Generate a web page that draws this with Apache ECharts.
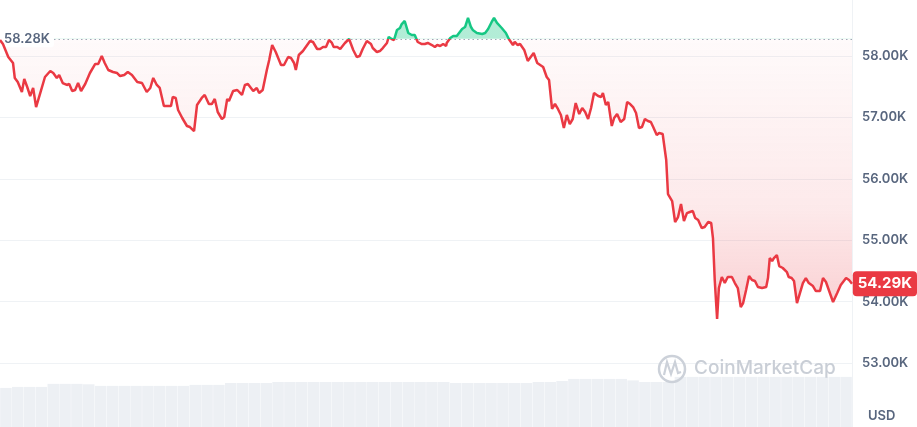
<!DOCTYPE html>
<html>
<head>
<meta charset="utf-8">
<script src="https://cdn.jsdelivr.net/npm/echarts@6/dist/echarts.min.js"></script>
<style>
  html, body { margin: 0; padding: 0; background: #fff; }
  #chart { width: 917px; height: 427px; }
</style>
</head>
<body>
<div id="chart"></div>
<script>
// 24h price, minutes since start
var openPrice = 58280;
var lastPrice = 54290;
var times = [
  0,5,14,22,25,30,37,41,46,51,
  56,61,68,76,85,90,96,100,106,113,
  117,122,127,132,137,144,152,161,166,172,
  177,183,191,198,203,210,216,223,232,240,
  243,248,254,259,265,270,277,284,289,292,
  297,301,308,316,321,324,328,333,341,346,
  353,358,363,368,375,379,384,387,394,401,
  409,414,419,428,434,438,444,451,455,460,
  466,475,480,487,492,497,500,505,512,515,
  524,529,536,541,546,551,556,561,564,570,
  575,583,590,597,603,608,613,620,627,630,
  637,642,647,654,657,662,666,671,676,679,
  684,690,696,701,706,713,718,723,730,735,
  739,744,749,754,755,761,766,772,781,786,
  791,796,799,806,815,820,825,831,835,840,
  848,855,860,867,870,875,879,886,892,902,
  908,918,924,928,933,938,943,948,953,958,
  963,968,973,979,984,989,994,999,1004,1011,
  1016,1019,1024,1028,1034,1038,1043,1049,1055,1060,
  1065,1070,1075,1080,1085,1090,1095,1100,1104,1110,
  1114,1120,1126,1129,1136,1141,1146,1151,1156,1161,
  1166,1171,1175,1180,1186,1191,1197,1202,1205,1208,
  1212,1215,1220,1225,1230,1237,1242,1247,1252,1256,
  1261,1266,1271,1276,1281,1288,1295,1298,1301,1305,
  1308,1313,1317,1323,1330,1333,1338,1342,1347,1350,
  1357,1362,1367,1374,1379,1386,1391,1396,1399,1408,
  1415,1421,1430,1435,1440
];
var prices = [
  58260,58195,57984,57886,57642,57576,57414,57625,57495,57348,
  57479,57169,57397,57658,57756,57723,57642,57690,57560,57528,
  57544,57430,57446,57560,57430,57544,57723,57870,57870,58000,
  57886,57772,57739,57723,57674,57690,57739,57690,57576,57560,
  57576,57414,57479,57642,57528,57479,57186,57186,57186,57332,
  57316,57120,56990,56860,56843,56843,56778,57202,57316,57365,
  57218,57218,57300,57088,56974,57006,57300,57267,57430,57446,
  57365,57528,57544,57430,57479,57397,57446,57772,57935,58179,
  58065,57853,57853,57984,57967,57886,57772,58016,58081,58098,
  58244,58228,58114,58114,58147,58147,58261,58212,58147,58147,
  58114,58212,58277,58098,57984,58000,58114,58244,58195,58130,
  58065,58081,58130,58212,58310,58277,58261,58424,58456,58521,
  58570,58375,58342,58342,58228,58195,58195,58212,58179,58147,
  58179,58163,58195,58163,58212,58293,58326,58326,58440,58472,
  58619,58472,58424,58375,58358,58375,58440,58554,58619,58538,
  58456,58375,58277,58179,58228,58179,58195,58098,57919,58049,
  57886,57821,57658,57609,57137,57218,57137,57039,56827,57039,
  56892,56974,57234,57055,57153,57088,56974,57153,57397,57348,
  57332,57397,57202,57251,56860,56990,57055,56925,56974,57251,
  57218,57169,57071,56827,56843,56974,56941,56925,56843,56713,
  56746,56729,56306,55752,55638,55296,55377,55589,55312,55442,
  55459,55475,55361,55328,55198,55214,55296,55280,55035,54351,
  53716,54221,54400,54302,54400,54400,54302,54221,53911,53976,
  54188,54416,54351,54335,54237,54221,54237,54384,54709,54661,
  54709,54758,54579,54547,54481,54400,54384,54335,53976,53993,
  54302,54384,54302,54253,54172,54172,54384,54319,54302,53993,
  54139,54270,54384,54351,54290
];
// volume, billions USD, one bar per 20 min
var volume = [
  26.9,27.6,27.6,27.6,29.7,29.7,29.7,29.4,28.3,28.3,
  28.3,28.3,28.3,28.3,28.3,28.3,29.0,29.0,29.0,30.3,
  30.3,30.3,30.3,31.0,31.0,31.0,31.0,31.0,31.0,31.0,
  31.0,31.0,31.0,31.0,31.0,31.0,31.0,31.0,30.3,30.3,
  30.3,30.3,30.3,30.3,30.3,31.0,31.0,31.7,33.1,33.1,
  33.1,33.1,33.1,32.1,31.0,31.0,31.0,34.5,34.5,34.5,
  34.5,34.5,34.5,34.5,34.5,34.5,34.5,34.5,34.5,34.5,
  34.5,34.5
];

var red = '#ea3943';
var green = '#16c784';
var textGray = '#58667e';
var font = 'Inter, sans-serif';

var priceData = times.map(function (t, i) { return [t, prices[i]]; });
var volIdx = volume.map(function (v, i) { return i; });
var fmtK = function (v) { return (v / 1000).toFixed(2) + 'K'; };

// price grid runs from y=0 (yMax) down to y=363 (53000)
var yMin = 53000, yMax = 58912, gridBottom = 64;
var cut = (yMax - openPrice) * (427 - gridBottom) / (yMax - yMin) / 427;

var lineColor = new echarts.graphic.LinearGradient(0, 0, 0, 427, [
  { offset: 0, color: green },
  { offset: cut, color: green },
  { offset: cut + 0.0001, color: red },
  { offset: 1, color: red }
], true);

var areaColor = new echarts.graphic.LinearGradient(0, 0, 0, 427, [
  { offset: 0, color: 'rgba(22,199,132,0.33)' },
  { offset: cut, color: 'rgba(22,199,132,0.33)' },
  { offset: cut + 0.0001, color: 'rgba(234,57,67,0.025)' },
  { offset: 0.49, color: 'rgba(234,57,67,0.11)' },
  { offset: 0.70, color: 'rgba(234,57,67,0.22)' },
  { offset: 0.76, color: 'rgba(234,57,67,0.25)' }
], true);

var chart = echarts.init(document.getElementById('chart'));
chart.setOption({
  animation: false,
  grid: [
    { left: 0, right: 65, top: 0, bottom: gridBottom },
    { left: 0, right: 65, top: 0, bottom: 0 }
  ],
  xAxis: [
    { type: 'value', min: 0, max: 1440, show: false, gridIndex: 0 },
    { type: 'category', data: volIdx, show: false, gridIndex: 1 }
  ],
  yAxis: [
    {
      type: 'value', gridIndex: 0, position: 'right',
      min: yMin, max: yMax, interval: 1000,
      axisLine: { show: false }, axisTick: { show: false },
      splitLine: { showMaxLine: false, lineStyle: { color: '#eff2f5', width: 1 } },
      axisLabel: {
        margin: 10, color: textGray, fontSize: 13, fontWeight: 600, fontFamily: font,
        showMaxLabel: false,
        formatter: function (v) { return v > 58000 ? '' : fmtK(v); }
      },
      axisPointer: {
        show: true, status: 'show', value: lastPrice, triggerTooltip: false,
        lineStyle: { opacity: 0 },
        label: {
          show: true, margin: 1, formatter: function (p) { return fmtK(p.value); },
          backgroundColor: red, color: '#fff', fontSize: 15, fontWeight: 'bold',
          fontFamily: font, padding: [5, 5, 5, 5], borderRadius: 4
        }
      }
    },
    {
      type: 'value', gridIndex: 1, position: 'right', min: 0, max: 294,
      axisLine: { show: true, lineStyle: { color: '#eff2f5' } },
      axisTick: { show: false }, axisLabel: { show: false }, splitLine: { show: false }
    }
  ],
  series: [
    {
      type: 'line', xAxisIndex: 0, yAxisIndex: 0, data: priceData,
      showSymbol: false, clip: false, z: 4, silent: true,
      lineStyle: { width: 2.5, color: lineColor }
    },
    {
      type: 'line', xAxisIndex: 0, yAxisIndex: 0, data: priceData,
      showSymbol: false, clip: false, z: 2, silent: true,
      lineStyle: { width: 0, opacity: 0 },
      areaStyle: { origin: openPrice, color: areaColor, opacity: 1 },
      markLine: {
        silent: true, symbol: 'none', z: 3,
        lineStyle: { color: '#a0a8b6', type: [1.5, 3], width: 1.2 },
        label: {
          show: true, position: 'insideStartTop', distance: 0,
          verticalAlign: 'middle', formatter: fmtK(openPrice),
          color: textGray, fontSize: 13, fontWeight: 600, fontFamily: font,
          backgroundColor: '#fff', padding: [2, 4, 2, 4], borderRadius: 3
        },
        data: [{ yAxis: openPrice }]
      }
    },
    {
      type: 'bar', xAxisIndex: 1, yAxisIndex: 1, data: volume,
      barCategoryGap: '3%', silent: true, z: 1,
      itemStyle: { color: '#edf0f4' }
    }
  ],
  graphic: [
    {
      type: 'circle', z: 10, silent: true,
      shape: { cx: 672, cy: 369, r: 13 },
      style: { fill: 'none', stroke: '#ccd1d9', lineWidth: 2.5 }
    },
    {
      type: 'polyline', z: 10, silent: true,
      shape: { points: [[664, 375], [667, 362], [671, 374], [675, 362], [678, 373], [681, 372]] },
      style: { fill: 'none', stroke: '#ccd1d9', lineWidth: 2.2 }
    },
    {
      type: 'text', z: 10, silent: true, x: 694, y: 368,
      style: { text: 'CoinMarketCap', fill: '#c9ced6', font: '500 19px Inter, sans-serif', verticalAlign: 'middle' }
    },
    {
      type: 'text', z: 10, silent: true, x: 868, y: 416,
      style: { text: 'USD', fill: textGray, font: '600 13px Inter, sans-serif', verticalAlign: 'middle' }
    }
  ]
});
</script>
</body>
</html>
